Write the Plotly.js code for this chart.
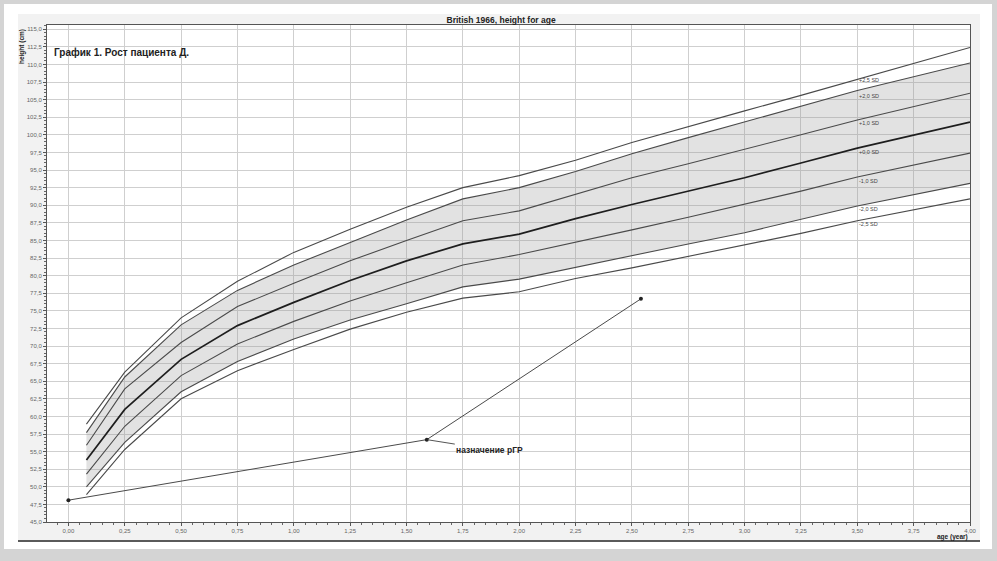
<!DOCTYPE html>
<html>
<head>
<meta charset="utf-8">
<script src="https://cdn.plot.ly/plotly-3.0.1.min.js"></script>
<style>
  html, body { margin:0; padding:0; width:997px; height:561px; overflow:hidden; background:#d4d4d4; }
  #white { position:absolute; left:4px; top:4px; width:988px; height:545px; background:#ffffff; }
  #panel { position:absolute; left:18px; top:14px; width:962px; height:526px; background:#f2f2f2; border-bottom:2px solid #5a5a5a; }
  #chart { position:absolute; left:0; top:0; width:997px; height:561px; }
</style>
</head>
<body>
<div id="white"></div>
<div id="panel"></div>
<div id="chart"></div>
<script>
// ---- data ----
const ages = [0.08, 0.25, 0.5, 0.75, 1.0, 1.25, 1.5, 1.75, 2.0, 2.25, 2.5, 2.75, 3.0, 3.25, 3.5, 4.0];
const sdP25 = [58.9, 66.3, 74.0, 79.2, 83.3, 86.6, 89.7, 92.5, 94.2, 96.4, 98.9, 101.2, 103.4, 105.6, 107.9, 112.4];
const sdP20 = [57.7, 65.6, 73.0, 77.9, 81.5, 84.7, 87.9, 90.9, 92.5, 94.8, 97.3, 99.6, 101.8, 104.1, 106.3, 110.2];
const sdP10 = [55.9, 63.9, 70.5, 75.6, 78.9, 82.1, 85.0, 87.8, 89.2, 91.6, 93.9, 95.9, 97.9, 100.0, 102.1, 105.9];
const sd00  = [53.8, 61.0, 68.1, 72.9, 76.2, 79.3, 82.1, 84.5, 85.9, 88.1, 90.1, 92.0, 93.9, 96.0, 98.1, 101.8];
const sdM10 = [51.8, 58.6, 65.8, 70.3, 73.5, 76.4, 79.0, 81.5, 83.0, 84.7, 86.5, 88.3, 90.1, 92.0, 94.0, 97.4];
const sdM20 = [50.0, 56.3, 63.5, 67.8, 71.0, 73.7, 76.0, 78.4, 79.5, 81.2, 82.8, 84.5, 86.1, 88.0, 89.9, 93.1];
const sdM25 = [48.9, 55.3, 62.5, 66.5, 69.5, 72.4, 74.8, 76.8, 77.7, 79.6, 81.1, 82.7, 84.3, 86.0, 87.8, 90.9];

const patientAge = [0.0, 1.59, 2.54];
const patientHeight = [48.1, 56.7, 76.7];

const sdLabels = ["+2,5 SD", "+2,0 SD", "+1,0 SD", "+0,0 SD", "-1,0 SD", "-2,0 SD", "-2,5 SD"];
const sdLabelY = [107.8, 105.5, 101.7, 97.6, 93.4, 89.5, 87.3];
const sdLabelX = 3.5;

const xTicks = [0, 0.25, 0.5, 0.75, 1, 1.25, 1.5, 1.75, 2, 2.25, 2.5, 2.75, 3, 3.25, 3.5, 3.75, 4];
const chartTitle = "British 1966, height for age";
const chartSubtitle = "График 1. Рост пациента Д.";
const noteText = "назначение рГР";

// ---- traces ----
const lineCol = '#4a4a4a';
function sdLine(y, w, c, fill) {
  const t = { x: ages, y: y, type: 'scatter', mode: 'lines',
    line: { color: c || lineCol, width: w || 1.1 }, hoverinfo: 'skip', showlegend: false };
  if (fill) { t.fill = 'tonexty'; t.fillcolor = 'rgba(150,150,150,0.28)'; }
  return t;
}
const traces = [
  sdLine(sdM20),
  sdLine(sdP20, 1.1, null, true),
  sdLine(sdP25),
  sdLine(sdP10),
  sdLine(sdM10),
  sdLine(sdM25),
  sdLine(sd00, 1.7, '#1e1e1e'),
  { x: patientAge, y: patientHeight, type: 'scatter', mode: 'lines+markers',
    line: { color: '#4a4a4a', width: 1 }, marker: { color: '#222222', size: 4 },
    hoverinfo: 'skip', showlegend: false }
];

const annotations = sdLabels.map((t, i) => ({
  x: sdLabelX, y: sdLabelY[i], xref: 'x', yref: 'y', text: t, showarrow: false,
  xanchor: 'left', yanchor: 'middle', font: { family: 'Liberation Sans, Arial', size: 5.5, color: '#444' }
}));
annotations.push({
  x: patientAge[1], y: patientHeight[1], xref: 'x', yref: 'y', text: noteText,
  showarrow: true, arrowhead: 0, arrowwidth: 1, arrowcolor: '#555', ax: 63, ay: 10, standoff: 1,
  font: { family: 'Liberation Sans, Arial', size: 8.5, color: '#222', weight: 'bold' }
});
annotations.push({
  x: 0.005, y: 0.944, xref: 'paper', yref: 'paper', text: chartSubtitle, showarrow: false,
  xanchor: 'left', yanchor: 'middle', font: { family: 'Liberation Sans, Arial', size: 10, color: '#222', weight: 'bold' }
});
annotations.push({
  x: 1, y: -0.031, xref: 'paper', yref: 'paper', text: 'age (year)', showarrow: false,
  xanchor: 'right', yanchor: 'middle', font: { family: 'Liberation Sans, Arial', size: 6.5, color: '#222', weight: 'bold' }
});
annotations.push({
  x: -0.027, y: 0.995, xref: 'paper', yref: 'paper', text: 'height (cm)', showarrow: false, textangle: -90,
  xanchor: 'center', yanchor: 'top', font: { family: 'Liberation Sans, Arial', size: 6.5, color: '#222', weight: 'bold' }
});

const layout = {
  width: 997, height: 561,
  margin: { l: 47, r: 27, t: 25, b: 39, pad: 0 },
  paper_bgcolor: 'rgba(0,0,0,0)', plot_bgcolor: '#ffffff',
  separators: ', ',
  title: { text: chartTitle, x: 0.492, xref: 'paper', xanchor: 'center', y: 1 - 20 / 561, yref: 'container', yanchor: 'middle',
    font: { family: 'Liberation Sans, Arial', size: 8.5, color: '#222', weight: 'bold' } },
  xaxis: {
    range: [-0.095, 4.0], tickvals: xTicks, tickformat: '.2f',
    showgrid: true, gridcolor: '#cfcfcf', gridwidth: 1, zeroline: false,
    showline: true, linecolor: '#555', linewidth: 1, mirror: true,
    ticks: 'outside', ticklen: 3, tickcolor: '#555',
    tickfont: { family: 'Liberation Sans, Arial', size: 6, color: '#666' },
    minor: { dtick: 0.05, tick0: 0, ticks: 'outside', ticklen: 2, tickcolor: '#666', showgrid: false }
  },
  yaxis: {
    range: [45, 115.6], tick0: 45, dtick: 2.5, tickformat: '.1f',
    showgrid: true, gridcolor: '#cfcfcf', gridwidth: 1, zeroline: false,
    showline: true, linecolor: '#555', linewidth: 1, mirror: true,
    ticks: 'outside', ticklen: 3, tickcolor: '#555',
    tickfont: { family: 'Liberation Sans, Arial', size: 6, color: '#666' },
    minor: { dtick: 0.5, tick0: 45, ticks: 'outside', ticklen: 2, tickcolor: '#666', showgrid: false }
  },
  annotations: annotations,
  showlegend: false
};

Plotly.newPlot('chart', traces, layout, { staticPlot: true, displayModeBar: false });
</script>
</body>
</html>
